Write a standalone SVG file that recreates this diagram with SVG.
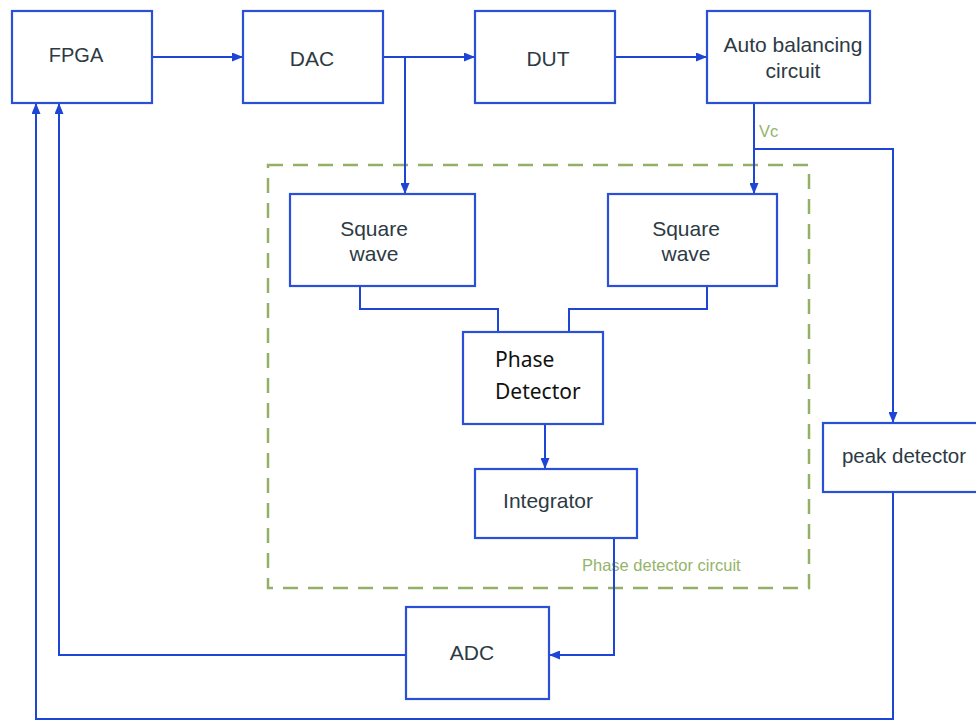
<svg xmlns="http://www.w3.org/2000/svg" width="976" height="721" viewBox="0 0 976 721">
<defs>
<marker id="ah" markerWidth="11" markerHeight="9" refX="11" refY="4.5" orient="auto" markerUnits="userSpaceOnUse">
<path d="M0,0 L11,4.5 L0,9 Z" fill="#1d46d6"/>
</marker>
<style>
.box{fill:#fff;stroke:#2a50d8;stroke-width:2.2}
.t{font-family:"Liberation Sans",Arial,sans-serif;font-size:21px;fill:#2d3a44;text-anchor:middle}
.n{font-family:"Noto Sans","Liberation Sans",sans-serif;font-size:21px;fill:#111}
.c{fill:none;stroke:#1d46d6;stroke-width:2}
.g{font-family:"Liberation Sans",Arial,sans-serif;font-size:16.5px;fill:#94b46a}
.dash{fill:none;stroke:#93b066;stroke-width:2.5;stroke-dasharray:15 10}
</style>
</defs>
<rect width="976" height="721" fill="#fff"/>
<rect class="dash" x="268" y="165" width="541" height="423"/>
<text class="g" x="582" y="571">Phase detector circuit</text>
<text class="g" x="759" y="137">Vc</text>
<g id="connectors">
<path class="c" d="M152,57 H243" marker-end="url(#ah)"/>
<path class="c" d="M383,57 H475" marker-end="url(#ah)"/>
<path class="c" d="M405,57 V194" marker-end="url(#ah)"/>
<path class="c" d="M615,57 H707" marker-end="url(#ah)"/>
<path class="c" d="M754,103 V194" marker-end="url(#ah)"/>
<path class="c" d="M754,149 H893 V423" marker-end="url(#ah)"/>
<path class="c" d="M360,286 V309 H498 V332"/>
<path class="c" d="M707,286 V309 H569 V332"/>
<path class="c" d="M545,424 V469" marker-end="url(#ah)"/>
<path class="c" d="M614,538 V655 H549" marker-end="url(#ah)"/>
<path class="c" d="M406,655 H59 V103" marker-end="url(#ah)"/>
<path class="c" d="M893,492 V719 H36 V103" marker-end="url(#ah)"/>
</g>
<g id="fpga"><rect class="box" x="12" y="11" width="140" height="92"/><text class="t" x="76" y="62" style="font-size:20px">FPGA</text></g>
<g id="dac"><rect class="box" x="243" y="11" width="140" height="92"/><text class="t" x="312" y="66">DAC</text></g>
<g id="dut"><rect class="box" x="475" y="11" width="140" height="92"/><text class="t" x="548" y="66">DUT</text></g>
<g id="auto"><rect class="box" x="707" y="11" width="163" height="92"/><text class="t" x="793" y="52">Auto balancing</text><text class="t" x="793" y="78">circuit</text></g>
<g id="sq1"><rect class="box" x="290" y="194" width="185" height="92"/><text class="t" x="374" y="236">Square</text><text class="t" x="374" y="261">wave</text></g>
<g id="sq2"><rect class="box" x="608" y="194" width="169" height="92"/><text class="t" x="686" y="236">Square</text><text class="t" x="686" y="261">wave</text></g>
<g id="pd"><rect class="box" x="463" y="332" width="140" height="92"/><text class="n" x="495" y="367">Phase</text><text class="n" x="495" y="399">Detector</text></g>
<g id="integrator"><rect class="box" x="475" y="469" width="162" height="69"/><text class="t" x="548" y="508">Integrator</text></g>
<g id="peak"><rect class="box" x="823" y="423" width="160" height="69"/><text class="t" x="904" y="463" style="font-size:20.5px">peak detector</text></g>
<g id="adc"><rect class="box" x="406" y="607" width="143" height="92"/><text class="t" x="472" y="660">ADC</text></g>
</svg>
